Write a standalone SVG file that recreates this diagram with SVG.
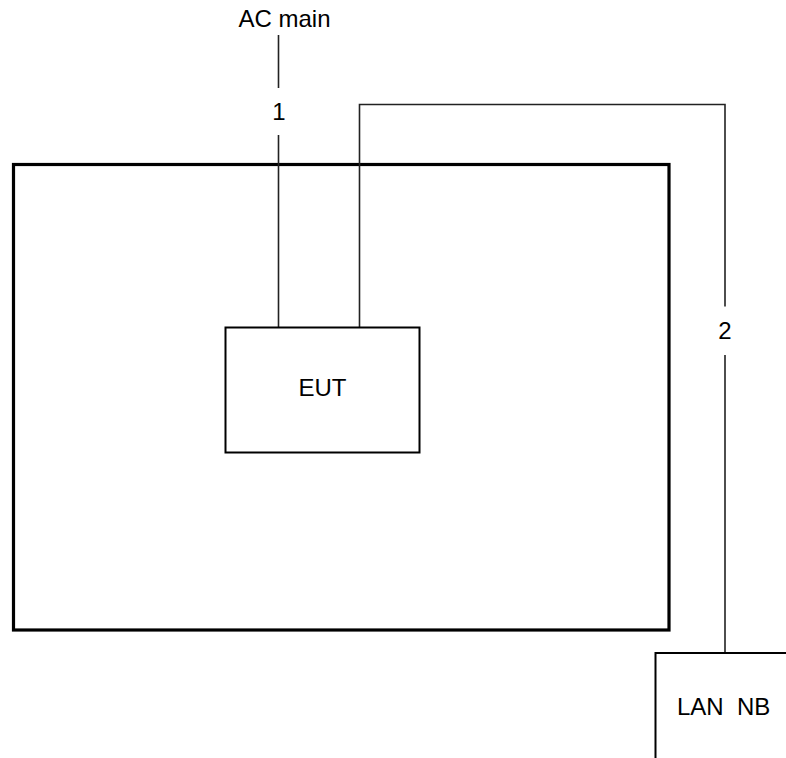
<svg xmlns="http://www.w3.org/2000/svg" width="786" height="758" viewBox="0 0 786 758">
<style>
text{font-family:"Liberation Sans",Arial,sans-serif;font-size:24px;fill:#000;white-space:pre}
.box{fill:none;stroke:#000;stroke-width:2}
.wire{fill:none;stroke:#222;stroke-width:1.6}
</style>
<rect width="786" height="758" fill="#fff"/>
<g id="room"><rect x="13.5" y="164.5" width="655.5" height="465.5" fill="none" stroke="#000" stroke-width="3.2"/></g>
<g id="connectors">
<path class="wire" d="M278.5 35V88M278.5 135V327"/>
<path class="wire" d="M359.5 327V104.5H725V306.5M725 355V653"/>
</g>
<g id="ac-main"><text x="284.5" y="27.3" text-anchor="middle">AC main</text></g>
<g id="label-1"><text x="279" y="120" text-anchor="middle">1</text></g>
<g id="label-2"><text x="725" y="339" text-anchor="middle">2</text></g>
<g id="eut"><rect class="box" x="225.5" y="327.5" width="194" height="125"/><text x="322.5" y="395.5" text-anchor="middle">EUT</text></g>
<g id="lan-nb"><path class="box" d="M655.5 770V653H800"/><text x="677" y="715">LAN  NB</text></g>
</svg>
